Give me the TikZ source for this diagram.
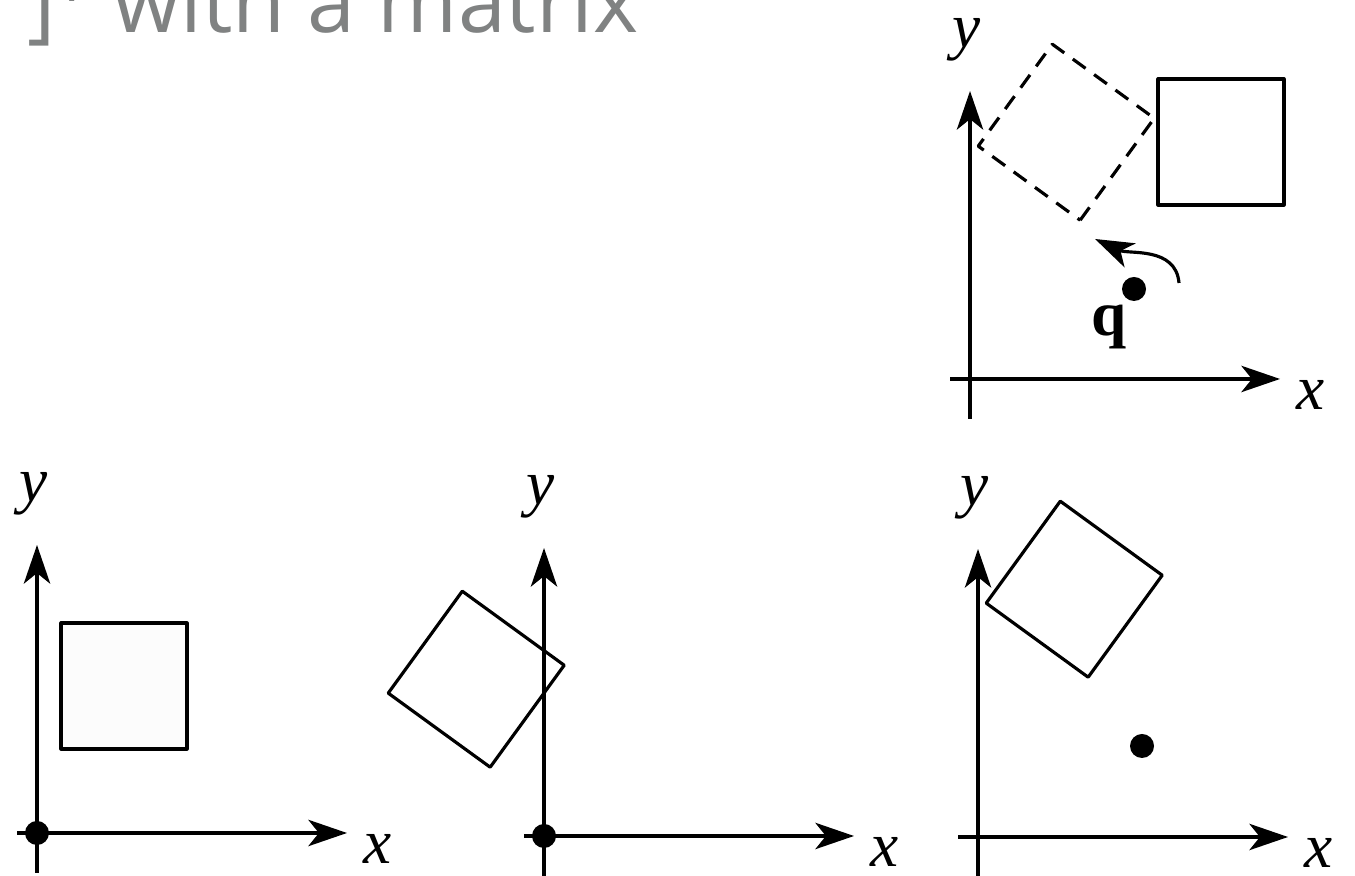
\documentclass[tikz,border=0pt]{standalone}
\usepackage{fontspec}
\setmainfont{Liberation Serif}
\newfontfamily\titlefont{Open Sans}
\usetikzlibrary{arrows.meta}
\definecolor{titlegray}{RGB}{128,130,130}

\begin{document}
\begin{tikzpicture}[>={Stealth[length=11pt,width=7.5pt,inset=3pt]}, line width=0.9pt,
	lbl/.style={font=\fontsize{18}{20}\selectfont\itshape},
	dot/.style={circle,fill,inner sep=0pt,minimum size=0.24cm},
	sq/.style={line join=round}]
	\useasboundingbox (0,0) rectangle (13.55,8.76);
	% 标题（上边被裁掉）
	\node[anchor=base east, inner sep=0pt, text=titlegray, font=\titlefont\fontsize{24.5}{28}\selectfont] (title) at (6.40,8.43) {1 ]\textsuperscript{T} with a matrix};
	% 坐标轴
	\foreach \p/\ox/\oy in {a/9.70/4.97, b/0.37/0.43, c/5.44/0.40, d/9.78/0.39}{
		\coordinate (O\p) at (\ox,\oy);
		\begin{scope}[shift={(O\p)}]
			\draw[->] (-0.2,0) -- (3.1,0);
			\draw[->] (0,-0.4) -- (0,2.88);
			\node[lbl] (x\p) at (3.41,-0.16) {x};
			\node[lbl] (y\p) at (-0.03,3.39) {y};
		\end{scope}
	}
	% 原来的正方形，绕q旋转
	\begin{scope}[shift={(Oa)}]
		\draw[sq] (1.88,1.74) -- (3.14,1.74) -- (3.14,3.00) -- (1.88,3.00) -- cycle;
		\draw[sq,dash pattern=on 4.5pt off 3pt,shift={(1.64,0.90)},rotate=54] (0.24,0.84) -- (1.50,0.84) -- (1.50,2.10) -- (0.24,2.10) -- cycle;
		\node[dot] (qa) at (1.64,0.90) {};
		\node[font=\fontsize{18}{20}\selectfont\bfseries] (qlbl) at (1.39,0.52) {q};
		\coordinate (rs) at (2.09,0.96);
		\coordinate (re) at (1.25,1.40);
		\draw[->] (rs) to[out=95,in=-25] (re);
	\end{scope}
	% 平移：q到原点
	\begin{scope}[shift={(Ob)}]
		\draw[sq,fill=black!1] (0.24,0.84) -- (1.50,0.84) -- (1.50,2.10) -- (0.24,2.10) -- cycle;
		\node[dot] (qb) at (0,0) {};
	\end{scope}
	% 绕原点旋转
	\begin{scope}[shift={(Oc)}]
		\draw[sq,rotate=54] (0.24,0.84) -- (1.50,0.84) -- (1.50,2.10) -- (0.24,2.10) -- cycle;
		\node[dot] (qc) at (0,0) {};
	\end{scope}
	% 平移回去
	\begin{scope}[shift={(Od)}]
		\draw[sq,shift={(1.64,0.91)},rotate=54] (0.24,0.84) -- (1.50,0.84) -- (1.50,2.10) -- (0.24,2.10) -- cycle;
		\node[dot] (qd) at (1.64,0.91) {};
	\end{scope}
\end{tikzpicture}
\end{document}
